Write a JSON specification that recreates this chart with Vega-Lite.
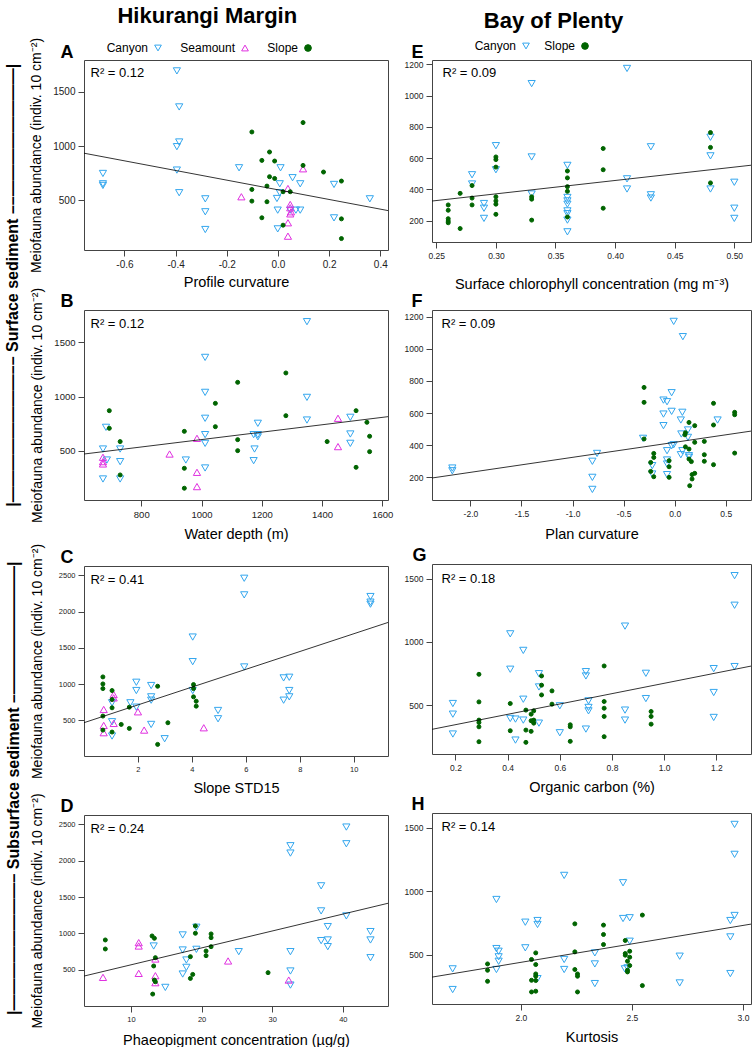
{
"$schema": "https://vega.github.io/schema/vega-lite/v6.json",
"background": "white",
"padding": 5,
"config": {
  "font": "Liberation Sans",
  "view": {"stroke": "#444", "strokeWidth": 1},
  "axis": {"grid": false, "domain": false, "tickColor": "#444", "tickSize": 6, "labelColor": "#222", "labelFont": "Liberation Sans", "titleFont": "Liberation Sans", "titleFontWeight": "normal", "titleColor": "#000", "titleFontSize": 14.5, "labelPadding": 3, "labelFlush": false, "labelOverlap": false},
  "axisX": {"titlePadding": 6},
  "axisY": {"titlePadding": 9},
  "point": {"opacity": 1, "strokeWidth": 1},
  "legend": {"symbolSize": 45, "symbolStrokeWidth": 1},
  "title": {"fontSize": 22, "fontWeight": "bold", "color": "#000"}
},
"datasets": {
  "A": [
    {"x":-0.684,"y":748,"type":"Canyon"},{"x":-0.684,"y":653,"type":"Canyon"},{"x":-0.684,"y":638,"type":"Canyon"},{"x":-0.395,"y":1690,"type":"Canyon"},{"x":-0.386,"y":1359,"type":"Canyon"},{"x":-0.386,"y":1037,"type":"Canyon"},{"x":-0.395,"y":994,"type":"Canyon"},{"x":-0.395,"y":779,"type":"Canyon"},{"x":-0.386,"y":571,"type":"Canyon"},{"x":-0.284,"y":515,"type":"Canyon"},{"x":-0.284,"y":396,"type":"Canyon"},{"x":-0.284,"y":233,"type":"Canyon"},{"x":-0.152,"y":800,"type":"Canyon"},{"x":0.01,"y":800,"type":"Canyon"},{"x":0.007,"y":653,"type":"Canyon"},{"x":0.057,"y":709,"type":"Canyon"},{"x":0.087,"y":653,"type":"Canyon"},{"x":-0.004,"y":518,"type":"Canyon"},{"x":-0.001,"y":411,"type":"Canyon"},{"x":-0.001,"y":239,"type":"Canyon"},{"x":0.048,"y":411,"type":"Canyon"},{"x":0.07,"y":411,"type":"Canyon"},{"x":0.087,"y":411,"type":"Canyon"},{"x":0.219,"y":647,"type":"Canyon"},{"x":0.219,"y":340,"type":"Canyon"},{"x":0.359,"y":515,"type":"Canyon"},{"x":0.007,"y":571,"type":"Canyon"},
    {"x":-0.143,"y":534,"type":"Seamount"},{"x":0.039,"y":610,"type":"Seamount"},{"x":0.048,"y":463,"type":"Seamount"},{"x":0.048,"y":433,"type":"Seamount"},{"x":0.051,"y":396,"type":"Seamount"},{"x":0.048,"y":377,"type":"Seamount"},{"x":0.039,"y":295,"type":"Seamount"},{"x":0.039,"y":172,"type":"Seamount"},{"x":0.098,"y":791,"type":"Seamount"},
    {"x":-0.102,"y":1129,"type":"Slope"},{"x":0.098,"y":1215,"type":"Slope"},{"x":-0.033,"y":945,"type":"Slope"},{"x":-0.063,"y":868,"type":"Slope"},{"x":-0.013,"y":862,"type":"Slope"},{"x":0.098,"y":822,"type":"Slope"},{"x":0.178,"y":761,"type":"Slope"},{"x":-0.033,"y":718,"type":"Slope"},{"x":-0.013,"y":702,"type":"Slope"},{"x":0.248,"y":678,"type":"Slope"},{"x":-0.043,"y":632,"type":"Slope"},{"x":-0.102,"y":601,"type":"Slope"},{"x":0.02,"y":580,"type":"Slope"},{"x":0.048,"y":580,"type":"Slope"},{"x":-0.102,"y":494,"type":"Slope"},{"x":-0.043,"y":488,"type":"Slope"},{"x":-0.063,"y":341,"type":"Slope"},{"x":0.02,"y":273,"type":"Slope"},{"x":0.248,"y":331,"type":"Slope"},{"x":0.248,"y":150,"type":"Slope"}
  ],
  "A_line": [{"x":-0.758,"y":934},{"x":0.43,"y":407}],
  "B": [
    {"x":673,"y":518,"type":"Canyon"},{"x":683,"y":717,"type":"Canyon"},{"x":686,"y":417,"type":"Canyon"},{"x":673,"y":243,"type":"Canyon"},{"x":730,"y":518,"type":"Canyon"},{"x":730,"y":402,"type":"Canyon"},{"x":730,"y":243,"type":"Canyon"},{"x":948,"y":417,"type":"Canyon"},{"x":1012,"y":1359,"type":"Canyon"},{"x":1012,"y":1038,"type":"Canyon"},{"x":1012,"y":800,"type":"Canyon"},{"x":1012,"y":650,"type":"Canyon"},{"x":1012,"y":570,"type":"Canyon"},{"x":1012,"y":344,"type":"Canyon"},{"x":1176,"y":518,"type":"Canyon"},{"x":1173,"y":411,"type":"Canyon"},{"x":1187,"y":754,"type":"Canyon"},{"x":1187,"y":650,"type":"Canyon"},{"x":1173,"y":650,"type":"Canyon"},{"x":1187,"y":630,"type":"Canyon"},{"x":1350,"y":1687,"type":"Canyon"},{"x":1350,"y":992,"type":"Canyon"},{"x":1350,"y":784,"type":"Canyon"},{"x":1494,"y":809,"type":"Canyon"},{"x":1494,"y":656,"type":"Canyon"},{"x":1494,"y":570,"type":"Canyon"},
    {"x":673,"y":442,"type":"Seamount"},{"x":673,"y":402,"type":"Seamount"},{"x":673,"y":381,"type":"Seamount"},{"x":894,"y":472,"type":"Seamount"},{"x":985,"y":616,"type":"Seamount"},{"x":985,"y":304,"type":"Seamount"},{"x":985,"y":173,"type":"Seamount"},{"x":1453,"y":800,"type":"Seamount"},{"x":1453,"y":540,"type":"Seamount"},
    {"x":694,"y":870,"type":"Slope"},{"x":694,"y":708,"type":"Slope"},{"x":730,"y":586,"type":"Slope"},{"x":730,"y":280,"type":"Slope"},{"x":943,"y":680,"type":"Slope"},{"x":943,"y":341,"type":"Slope"},{"x":943,"y":158,"type":"Slope"},{"x":1046,"y":937,"type":"Slope"},{"x":1046,"y":723,"type":"Slope"},{"x":1120,"y":1130,"type":"Slope"},{"x":1120,"y":604,"type":"Slope"},{"x":1120,"y":503,"type":"Slope"},{"x":1280,"y":1216,"type":"Slope"},{"x":1280,"y":824,"type":"Slope"},{"x":1417,"y":586,"type":"Slope"},{"x":1513,"y":870,"type":"Slope"},{"x":1513,"y":350,"type":"Slope"},{"x":1549,"y":763,"type":"Slope"},{"x":1558,"y":635,"type":"Slope"},{"x":1558,"y":494,"type":"Slope"}
  ],
  "B_line": [{"x":610,"y":472},{"x":1619,"y":815}],
  "C": [
    {"x":5.94,"y":2459,"type":"Canyon"},{"x":5.94,"y":2230,"type":"Canyon"},{"x":10.62,"y":2207,"type":"Canyon"},{"x":10.62,"y":2102,"type":"Canyon"},{"x":10.62,"y":2130,"type":"Canyon"},{"x":4.03,"y":1649,"type":"Canyon"},{"x":4.03,"y":1310,"type":"Canyon"},{"x":4.03,"y":912,"type":"Canyon"},{"x":5.94,"y":1237,"type":"Canyon"},{"x":7.4,"y":1086,"type":"Canyon"},{"x":7.61,"y":1095,"type":"Canyon"},{"x":7.61,"y":912,"type":"Canyon"},{"x":7.61,"y":825,"type":"Canyon"},{"x":7.4,"y":779,"type":"Canyon"},{"x":4.97,"y":637,"type":"Canyon"},{"x":4.97,"y":523,"type":"Canyon"},{"x":1.94,"y":1026,"type":"Canyon"},{"x":1.94,"y":912,"type":"Canyon"},{"x":1.94,"y":683,"type":"Canyon"},{"x":2.49,"y":981,"type":"Canyon"},{"x":2.49,"y":825,"type":"Canyon"},{"x":2.49,"y":779,"type":"Canyon"},{"x":2.49,"y":445,"type":"Canyon"},{"x":1.72,"y":743,"type":"Canyon"},{"x":1.04,"y":482,"type":"Canyon"},{"x":1.04,"y":285,"type":"Canyon"},{"x":2.99,"y":248,"type":"Canyon"},{"x":1.04,"y":743,"type":"Canyon"},
    {"x":0.73,"y":651,"type":"Seamount"},{"x":0.73,"y":431,"type":"Seamount"},{"x":0.73,"y":331,"type":"Seamount"},{"x":1.1,"y":857,"type":"Seamount"},{"x":1.1,"y":811,"type":"Seamount"},{"x":1.1,"y":459,"type":"Seamount"},{"x":2.0,"y":619,"type":"Seamount"},{"x":2.23,"y":367,"type":"Seamount"},{"x":4.44,"y":399,"type":"Seamount"},
    {"x":0.7,"y":1100,"type":"Slope"},{"x":0.7,"y":1003,"type":"Slope"},{"x":0.7,"y":939,"type":"Slope"},{"x":0.7,"y":560,"type":"Slope"},{"x":0.7,"y":367,"type":"Slope"},{"x":1.04,"y":912,"type":"Slope"},{"x":1.04,"y":788,"type":"Slope"},{"x":1.04,"y":674,"type":"Slope"},{"x":1.04,"y":340,"type":"Slope"},{"x":1.38,"y":445,"type":"Slope"},{"x":1.68,"y":390,"type":"Slope"},{"x":1.68,"y":683,"type":"Slope"},{"x":2.73,"y":971,"type":"Slope"},{"x":3.11,"y":468,"type":"Slope"},{"x":2.73,"y":170,"type":"Slope"},{"x":4.06,"y":994,"type":"Slope"},{"x":4.06,"y":939,"type":"Slope"},{"x":4.06,"y":825,"type":"Slope"},{"x":4.16,"y":765,"type":"Slope"},{"x":4.16,"y":697,"type":"Slope"}
  ],
  "C_line": [{"x":0,"y":469},{"x":11.27,"y":1850}],
  "D": [
    {"x":40.5,"y":2463,"type":"Canyon"},{"x":40.5,"y":2233,"type":"Canyon"},{"x":32.58,"y":2206,"type":"Canyon"},{"x":32.58,"y":2105,"type":"Canyon"},{"x":36.93,"y":1654,"type":"Canyon"},{"x":36.93,"y":1309,"type":"Canyon"},{"x":40.5,"y":1240,"type":"Canyon"},{"x":37.87,"y":1093,"type":"Canyon"},{"x":36.93,"y":900,"type":"Canyon"},{"x":37.87,"y":909,"type":"Canyon"},{"x":37.87,"y":817,"type":"Canyon"},{"x":43.92,"y":1024,"type":"Canyon"},{"x":43.92,"y":909,"type":"Canyon"},{"x":43.92,"y":665,"type":"Canyon"},{"x":32.58,"y":748,"type":"Canyon"},{"x":32.58,"y":482,"type":"Canyon"},{"x":32.58,"y":288,"type":"Canyon"},{"x":25.26,"y":748,"type":"Canyon"},{"x":17.32,"y":978,"type":"Canyon"},{"x":17.32,"y":771,"type":"Canyon"},{"x":17.84,"y":633,"type":"Canyon"},{"x":17.84,"y":532,"type":"Canyon"},{"x":17.32,"y":440,"type":"Canyon"},{"x":19.26,"y":1084,"type":"Canyon"},{"x":19.26,"y":780,"type":"Canyon"},{"x":13.21,"y":826,"type":"Canyon"},{"x":14.86,"y":256,"type":"Canyon"},
    {"x":6.03,"y":394,"type":"Seamount"},{"x":11.09,"y":872,"type":"Seamount"},{"x":11.09,"y":826,"type":"Seamount"},{"x":11.09,"y":449,"type":"Seamount"},{"x":13.45,"y":647,"type":"Seamount"},{"x":13.45,"y":417,"type":"Seamount"},{"x":13.45,"y":321,"type":"Seamount"},{"x":23.75,"y":620,"type":"Seamount"},{"x":32.34,"y":357,"type":"Seamount"},
    {"x":6.36,"y":909,"type":"Slope"},{"x":6.36,"y":785,"type":"Slope"},{"x":12.98,"y":964,"type":"Slope"},{"x":13.31,"y":932,"type":"Slope"},{"x":13.21,"y":551,"type":"Slope"},{"x":13.31,"y":357,"type":"Slope"},{"x":13.45,"y":334,"type":"Slope"},{"x":13.07,"y":164,"type":"Slope"},{"x":13.45,"y":665,"type":"Slope"},{"x":19.12,"y":1102,"type":"Slope"},{"x":19.12,"y":1001,"type":"Slope"},{"x":21.34,"y":992,"type":"Slope"},{"x":21.34,"y":941,"type":"Slope"},{"x":21.34,"y":817,"type":"Slope"},{"x":20.63,"y":757,"type":"Slope"},{"x":20.63,"y":693,"type":"Slope"},{"x":18.41,"y":679,"type":"Slope"},{"x":18.74,"y":435,"type":"Slope"},{"x":18.41,"y":380,"type":"Slope"},{"x":29.41,"y":459,"type":"Slope"}
  ],
  "D_line": [{"x":3.34,"y":412},{"x":46.4,"y":1414}],
  "E": [
    {"x":0.41,"y":1174,"type":"Canyon"},{"x":0.33,"y":1077,"type":"Canyon"},{"x":0.33,"y":608,"type":"Canyon"},{"x":0.33,"y":371,"type":"Canyon"},{"x":0.30,"y":680,"type":"Canyon"},{"x":0.30,"y":526,"type":"Canyon"},{"x":0.28,"y":494,"type":"Canyon"},{"x":0.28,"y":435,"type":"Canyon"},{"x":0.29,"y":310,"type":"Canyon"},{"x":0.29,"y":280,"type":"Canyon"},{"x":0.29,"y":215,"type":"Canyon"},{"x":0.36,"y":554,"type":"Canyon"},{"x":0.36,"y":349,"type":"Canyon"},{"x":0.36,"y":327,"type":"Canyon"},{"x":0.36,"y":306,"type":"Canyon"},{"x":0.36,"y":263,"type":"Canyon"},{"x":0.36,"y":245,"type":"Canyon"},{"x":0.36,"y":204,"type":"Canyon"},{"x":0.36,"y":129,"type":"Canyon"},{"x":0.41,"y":468,"type":"Canyon"},{"x":0.41,"y":403,"type":"Canyon"},{"x":0.43,"y":673,"type":"Canyon"},{"x":0.43,"y":366,"type":"Canyon"},{"x":0.43,"y":345,"type":"Canyon"},{"x":0.48,"y":734,"type":"Canyon"},{"x":0.48,"y":615,"type":"Canyon"},{"x":0.48,"y":403,"type":"Canyon"},{"x":0.50,"y":446,"type":"Canyon"},{"x":0.50,"y":280,"type":"Canyon"},{"x":0.50,"y":215,"type":"Canyon"},
    {"x":0.26,"y":301,"type":"Slope"},{"x":0.26,"y":267,"type":"Slope"},{"x":0.26,"y":213,"type":"Slope"},{"x":0.26,"y":198,"type":"Slope"},{"x":0.26,"y":187,"type":"Slope"},{"x":0.27,"y":375,"type":"Slope"},{"x":0.27,"y":150,"type":"Slope"},{"x":0.28,"y":425,"type":"Slope"},{"x":0.28,"y":345,"type":"Slope"},{"x":0.28,"y":301,"type":"Slope"},{"x":0.30,"y":608,"type":"Slope"},{"x":0.30,"y":591,"type":"Slope"},{"x":0.30,"y":543,"type":"Slope"},{"x":0.30,"y":353,"type":"Slope"},{"x":0.30,"y":327,"type":"Slope"},{"x":0.30,"y":306,"type":"Slope"},{"x":0.30,"y":241,"type":"Slope"},{"x":0.33,"y":353,"type":"Slope"},{"x":0.33,"y":338,"type":"Slope"},{"x":0.33,"y":204,"type":"Slope"},{"x":0.36,"y":518,"type":"Slope"},{"x":0.36,"y":474,"type":"Slope"},{"x":0.36,"y":418,"type":"Slope"},{"x":0.36,"y":388,"type":"Slope"},{"x":0.36,"y":224,"type":"Slope"},{"x":0.39,"y":662,"type":"Slope"},{"x":0.39,"y":526,"type":"Slope"},{"x":0.39,"y":280,"type":"Slope"},{"x":0.48,"y":764,"type":"Slope"},{"x":0.48,"y":669,"type":"Slope"},{"x":0.48,"y":442,"type":"Slope"}
  ],
  "E_line": [{"x":0.2464,"y":326},{"x":0.514,"y":555}],
  "F": [
    {"x":-2.177,"y":258,"type":"Canyon"},{"x":-2.177,"y":241,"type":"Canyon"},{"x":-0.806,"y":300,"type":"Canyon"},{"x":-0.806,"y":200,"type":"Canyon"},{"x":-0.806,"y":125,"type":"Canyon"},{"x":-0.76,"y":349,"type":"Canyon"},{"x":-0.31,"y":443,"type":"Canyon"},{"x":-0.01,"y":1171,"type":"Canyon"},{"x":0.08,"y":1076,"type":"Canyon"},{"x":-0.03,"y":727,"type":"Canyon"},{"x":-0.11,"y":681,"type":"Canyon"},{"x":-0.075,"y":671,"type":"Canyon"},{"x":-0.03,"y":611,"type":"Canyon"},{"x":-0.11,"y":594,"type":"Canyon"},{"x":-0.11,"y":522,"type":"Canyon"},{"x":0.075,"y":605,"type":"Canyon"},{"x":0.06,"y":557,"type":"Canyon"},{"x":0.42,"y":557,"type":"Canyon"},{"x":0.065,"y":470,"type":"Canyon"},{"x":0.13,"y":495,"type":"Canyon"},{"x":0.13,"y":449,"type":"Canyon"},{"x":-0.03,"y":397,"type":"Canyon"},{"x":-0.01,"y":403,"type":"Canyon"},{"x":-0.075,"y":366,"type":"Canyon"},{"x":0.075,"y":366,"type":"Canyon"},{"x":0.06,"y":341,"type":"Canyon"},{"x":-0.075,"y":308,"type":"Canyon"},{"x":-0.075,"y":283,"type":"Canyon"},{"x":-0.075,"y":217,"type":"Canyon"},{"x":-0.22,"y":273,"type":"Canyon"},{"x":-0.22,"y":221,"type":"Canyon"},{"x":0.14,"y":335,"type":"Canyon"},{"x":0.14,"y":325,"type":"Canyon"},
    {"x":-0.3,"y":760,"type":"Slope"},{"x":-0.3,"y":667,"type":"Slope"},{"x":-0.3,"y":439,"type":"Slope"},{"x":-0.205,"y":349,"type":"Slope"},{"x":-0.205,"y":324,"type":"Slope"},{"x":-0.235,"y":293,"type":"Slope"},{"x":-0.235,"y":237,"type":"Slope"},{"x":-0.205,"y":204,"type":"Slope"},{"x":-0.055,"y":304,"type":"Slope"},{"x":-0.055,"y":266,"type":"Slope"},{"x":-0.055,"y":200,"type":"Slope"},{"x":0.105,"y":478,"type":"Slope"},{"x":0.1,"y":465,"type":"Slope"},{"x":0.14,"y":542,"type":"Slope"},{"x":0.196,"y":522,"type":"Slope"},{"x":0.196,"y":418,"type":"Slope"},{"x":0.14,"y":376,"type":"Slope"},{"x":0.105,"y":390,"type":"Slope"},{"x":0.14,"y":314,"type":"Slope"},{"x":0.163,"y":298,"type":"Slope"},{"x":0.17,"y":217,"type":"Slope"},{"x":0.196,"y":225,"type":"Slope"},{"x":0.17,"y":190,"type":"Slope"},{"x":0.147,"y":148,"type":"Slope"},{"x":0.29,"y":424,"type":"Slope"},{"x":0.29,"y":341,"type":"Slope"},{"x":0.29,"y":300,"type":"Slope"},{"x":0.38,"y":661,"type":"Slope"},{"x":0.38,"y":526,"type":"Slope"},{"x":0.38,"y":279,"type":"Slope"},{"x":0.587,"y":605,"type":"Slope"},{"x":0.587,"y":590,"type":"Slope"},{"x":0.587,"y":351,"type":"Slope"}
  ],
  "F_line": [{"x":-2.376,"y":196},{"x":0.747,"y":488}],
  "G": [
    {"x":0.19,"y":513,"type":"Canyon"},{"x":0.19,"y":429,"type":"Canyon"},{"x":0.19,"y":272,"type":"Canyon"},{"x":0.41,"y":1064,"type":"Canyon"},{"x":0.41,"y":784,"type":"Canyon"},{"x":0.41,"y":395,"type":"Canyon"},{"x":0.43,"y":390,"type":"Canyon"},{"x":0.46,"y":933,"type":"Canyon"},{"x":0.46,"y":547,"type":"Canyon"},{"x":0.46,"y":382,"type":"Canyon"},{"x":0.43,"y":224,"type":"Canyon"},{"x":0.52,"y":749,"type":"Canyon"},{"x":0.52,"y":644,"type":"Canyon"},{"x":0.52,"y":358,"type":"Canyon"},{"x":0.60,"y":495,"type":"Canyon"},{"x":0.60,"y":282,"type":"Canyon"},{"x":0.70,"y":765,"type":"Canyon"},{"x":0.70,"y":731,"type":"Canyon"},{"x":0.70,"y":311,"type":"Canyon"},{"x":0.71,"y":534,"type":"Canyon"},{"x":0.71,"y":482,"type":"Canyon"},{"x":0.71,"y":455,"type":"Canyon"},{"x":0.85,"y":1125,"type":"Canyon"},{"x":0.85,"y":461,"type":"Canyon"},{"x":0.85,"y":382,"type":"Canyon"},{"x":0.93,"y":752,"type":"Canyon"},{"x":0.93,"y":552,"type":"Canyon"},{"x":1.19,"y":789,"type":"Canyon"},{"x":1.19,"y":600,"type":"Canyon"},{"x":1.19,"y":403,"type":"Canyon"},{"x":1.27,"y":1524,"type":"Canyon"},{"x":1.27,"y":1290,"type":"Canyon"},{"x":1.27,"y":805,"type":"Canyon"},
    {"x":0.29,"y":744,"type":"Slope"},{"x":0.29,"y":526,"type":"Slope"},{"x":0.29,"y":382,"type":"Slope"},{"x":0.29,"y":363,"type":"Slope"},{"x":0.29,"y":329,"type":"Slope"},{"x":0.29,"y":211,"type":"Slope"},{"x":0.41,"y":513,"type":"Slope"},{"x":0.41,"y":298,"type":"Slope"},{"x":0.47,"y":461,"type":"Slope"},{"x":0.47,"y":303,"type":"Slope"},{"x":0.47,"y":206,"type":"Slope"},{"x":0.49,"y":429,"type":"Slope"},{"x":0.50,"y":455,"type":"Slope"},{"x":0.49,"y":377,"type":"Slope"},{"x":0.50,"y":382,"type":"Slope"},{"x":0.50,"y":358,"type":"Slope"},{"x":0.49,"y":293,"type":"Slope"},{"x":0.53,"y":731,"type":"Slope"},{"x":0.53,"y":658,"type":"Slope"},{"x":0.53,"y":581,"type":"Slope"},{"x":0.57,"y":613,"type":"Slope"},{"x":0.57,"y":508,"type":"Slope"},{"x":0.64,"y":345,"type":"Slope"},{"x":0.64,"y":329,"type":"Slope"},{"x":0.64,"y":214,"type":"Slope"},{"x":0.77,"y":810,"type":"Slope"},{"x":0.77,"y":529,"type":"Slope"},{"x":0.77,"y":476,"type":"Slope"},{"x":0.77,"y":411,"type":"Slope"},{"x":0.77,"y":251,"type":"Slope"},{"x":0.95,"y":450,"type":"Slope"},{"x":0.95,"y":411,"type":"Slope"},{"x":0.95,"y":350,"type":"Slope"}
  ],
  "G_line": [{"x":0.11,"y":309},{"x":1.333,"y":809}],
  "H": [
    {"x":1.693,"y":387,"type":"Canyon"},{"x":1.693,"y":224,"type":"Canyon"},{"x":1.89,"y":934,"type":"Canyon"},{"x":1.89,"y":547,"type":"Canyon"},{"x":1.9,"y":526,"type":"Canyon"},{"x":1.9,"y":482,"type":"Canyon"},{"x":1.9,"y":447,"type":"Canyon"},{"x":1.89,"y":382,"type":"Canyon"},{"x":2.02,"y":755,"type":"Canyon"},{"x":2.02,"y":553,"type":"Canyon"},{"x":2.075,"y":768,"type":"Canyon"},{"x":2.075,"y":737,"type":"Canyon"},{"x":2.075,"y":310,"type":"Canyon"},{"x":2.195,"y":1124,"type":"Canyon"},{"x":2.195,"y":461,"type":"Canyon"},{"x":2.195,"y":382,"type":"Canyon"},{"x":2.333,"y":513,"type":"Canyon"},{"x":2.333,"y":426,"type":"Canyon"},{"x":2.333,"y":271,"type":"Canyon"},{"x":2.46,"y":1066,"type":"Canyon"},{"x":2.46,"y":784,"type":"Canyon"},{"x":2.49,"y":790,"type":"Canyon"},{"x":2.468,"y":387,"type":"Canyon"},{"x":2.49,"y":605,"type":"Canyon"},{"x":2.48,"y":395,"type":"Canyon"},{"x":2.715,"y":487,"type":"Canyon"},{"x":2.715,"y":276,"type":"Canyon"},{"x":2.943,"y":768,"type":"Canyon"},{"x":2.943,"y":639,"type":"Canyon"},{"x":2.943,"y":350,"type":"Canyon"},{"x":2.962,"y":1526,"type":"Canyon"},{"x":2.962,"y":1290,"type":"Canyon"},{"x":2.962,"y":808,"type":"Canyon"},
    {"x":1.85,"y":426,"type":"Slope"},{"x":1.85,"y":376,"type":"Slope"},{"x":1.85,"y":289,"type":"Slope"},{"x":2.067,"y":513,"type":"Slope"},{"x":2.048,"y":461,"type":"Slope"},{"x":2.067,"y":421,"type":"Slope"},{"x":2.067,"y":347,"type":"Slope"},{"x":2.067,"y":329,"type":"Slope"},{"x":2.048,"y":297,"type":"Slope"},{"x":2.067,"y":295,"type":"Slope"},{"x":2.048,"y":205,"type":"Slope"},{"x":2.067,"y":211,"type":"Slope"},{"x":2.243,"y":742,"type":"Slope"},{"x":2.243,"y":521,"type":"Slope"},{"x":2.243,"y":382,"type":"Slope"},{"x":2.255,"y":347,"type":"Slope"},{"x":2.255,"y":329,"type":"Slope"},{"x":2.255,"y":205,"type":"Slope"},{"x":2.372,"y":732,"type":"Slope"},{"x":2.372,"y":658,"type":"Slope"},{"x":2.372,"y":579,"type":"Slope"},{"x":2.47,"y":611,"type":"Slope"},{"x":2.47,"y":508,"type":"Slope"},{"x":2.47,"y":495,"type":"Slope"},{"x":2.49,"y":526,"type":"Slope"},{"x":2.49,"y":479,"type":"Slope"},{"x":2.48,"y":447,"type":"Slope"},{"x":2.49,"y":413,"type":"Slope"},{"x":2.48,"y":376,"type":"Slope"},{"x":2.48,"y":363,"type":"Slope"},{"x":2.547,"y":811,"type":"Slope"},{"x":2.547,"y":255,"type":"Slope"}
  ],
  "H_line": [{"x":1.6,"y":322},{"x":3.036,"y":740}]
},
"resolve": {"scale": {"shape": "independent", "fill": "independent", "stroke": "independent"}},
"spacing": 9,
"hconcat": [
 {
  "title": {"text": "Hikurangi Margin", "anchor": "middle", "frame": "bounds", "fontSize": 22, "offset": 7, "dx": 8},
  "spacing": -1,
  "resolve": {"scale": {"shape": "independent", "fill": "independent", "stroke": "independent"}},
  "vconcat": [
   {
    "title": {"text": "|————————–– Surface sediment ––————————|", "orient": "left", "anchor": "middle", "frame": "bounds", "fontSize": 16, "offset": 8, "dx": 3, "color": "#000"},
    "bounds": "flush",
    "spacing": 60,
    "resolve": {"scale": {"shape": "independent", "fill": "independent", "stroke": "independent"}},
    "vconcat": [
     {
      "width": 304, "height": 190,
      "resolve": {"axis": {"x": "independent", "y": "independent"}},
      "layer": [
       {"data": {"name": "A"}, "mark": {"type": "point"},
        "encoding": {
         "x": {"field": "x", "type": "quantitative", "scale": {"domain": [-0.758, 0.43], "nice": false, "zero": false}, "axis": {"values": [-0.6,-0.4,-0.2,0,0.2,0.4], "format": ".1f", "labelExpr": "replace(datum.label, '\u2212', '-')", "title": "Profile curvature", "labelFontSize": 10}},
         "y": {"field": "y", "type": "quantitative", "scale": {"domain": [45, 1790], "nice": false, "zero": false}, "axis": {"values": [500,1000,1500], "format": "d", "title": "Meiofauna abundance (indiv. 10  cm\u207b\u00b2)", "labelFontSize": 10, "titleFontSize": 14}},
         "shape": {"field": "type", "type": "nominal", "scale": {"domain": ["Canyon","Seamount","Slope"], "range": ["triangle-down","triangle-up","circle"]}, "legend": {"orient": "none", "legendX": 68, "legendY": -18, "direction": "horizontal", "columns": 3, "title": null, "labelAlign": "right", "labelOffset": -16, "labelFontSize": 12, "labelColor": "#000", "columnPadding": 16}},
         "stroke": {"field": "type", "type": "nominal", "scale": {"domain": ["Canyon","Seamount","Slope"], "range": ["#33a6ee","#e030e0","#006400"]}, "legend": {"orient": "none", "legendX": 68, "legendY": -18, "direction": "horizontal", "columns": 3, "title": null, "labelAlign": "right", "labelOffset": -16, "labelFontSize": 12, "labelColor": "#000", "columnPadding": 16}},
         "fill": {"field": "type", "type": "nominal", "scale": {"domain": ["Canyon","Seamount","Slope"], "range": ["transparent","transparent","#006400"]}, "legend": {"orient": "none", "legendX": 68, "legendY": -18, "direction": "horizontal", "columns": 3, "title": null, "labelAlign": "right", "labelOffset": -16, "labelFontSize": 12, "labelColor": "#000", "columnPadding": 16}},
         "size": {"condition": {"test": "datum.type === 'Slope'", "value": 16}, "value": 52}
        }},
       {"data": {"name": "A_line"}, "mark": {"type": "line", "color": "#000", "strokeWidth": 0.8, "clip": true},
        "encoding": {
         "x": {"field": "x", "type": "quantitative", "axis": {"orient": "top", "title": "A", "titleX": -24, "titleY": -3, "titleAlign": "left", "titleBaseline": "alphabetic", "titleFontSize": 18, "titleFontWeight": "bold", "labels": false, "ticks": false, "domain": false}},
         "y": {"field": "y", "type": "quantitative", "axis": {"orient": "right", "title": "R\u00b2 = 0.12", "titleAngle": 0, "titleX": -298, "titleY": 16, "titleAlign": "left", "titleBaseline": "alphabetic", "titleFontSize": 13, "labels": false, "ticks": false, "domain": false}}
        }}
      ]
     },
     {
      "width": 304, "height": 190,
      "resolve": {"axis": {"x": "independent", "y": "independent"}},
      "layer": [
       {"data": {"name": "B"}, "mark": {"type": "point"},
        "encoding": {
         "x": {"field": "x", "type": "quantitative", "scale": {"domain": [610, 1619], "nice": false, "zero": false}, "axis": {"values": [800,1000,1200,1400,1600], "format": "d", "title": "Water depth (m)", "labelFontSize": 9.5, "titlePadding": 9}},
         "y": {"field": "y", "type": "quantitative", "scale": {"domain": [50, 1794], "nice": false, "zero": false}, "axis": {"values": [500,1000,1500], "format": "d", "title": "Meiofauna abundance (indiv. 10  cm\u207b\u00b2)", "labelFontSize": 9.5, "titleFontSize": 14}},
         "shape": {"field": "type", "type": "nominal", "scale": {"domain": ["Canyon","Seamount","Slope"], "range": ["triangle-down","triangle-up","circle"]}, "legend": null},
         "stroke": {"field": "type", "type": "nominal", "scale": {"domain": ["Canyon","Seamount","Slope"], "range": ["#33a6ee","#e030e0","#006400"]}, "legend": null},
         "fill": {"field": "type", "type": "nominal", "scale": {"domain": ["Canyon","Seamount","Slope"], "range": ["transparent","transparent","#006400"]}, "legend": null},
         "size": {"condition": {"test": "datum.type === 'Slope'", "value": 16}, "value": 52}
        }},
       {"data": {"name": "B_line"}, "mark": {"type": "line", "color": "#000", "strokeWidth": 0.8, "clip": true},
        "encoding": {
         "x": {"field": "x", "type": "quantitative", "axis": {"orient": "top", "title": "B", "titleX": -24, "titleY": -4, "titleAlign": "left", "titleBaseline": "alphabetic", "titleFontSize": 18, "titleFontWeight": "bold", "labels": false, "ticks": false, "domain": false}},
         "y": {"field": "y", "type": "quantitative", "axis": {"orient": "right", "title": "R\u00b2 = 0.12", "titleAngle": 0, "titleX": -298, "titleY": 17, "titleAlign": "left", "titleBaseline": "alphabetic", "titleFontSize": 13, "labels": false, "ticks": false, "domain": false}}
        }}
      ]
     }
    ]
   },
   {
    "title": {"text": "|————————– Subsurface sediment –————————|", "orient": "left", "anchor": "middle", "frame": "bounds", "fontSize": 16, "offset": 8, "dx": 6, "color": "#000"},
    "bounds": "flush",
    "spacing": 59,
    "resolve": {"scale": {"shape": "independent", "fill": "independent", "stroke": "independent"}},
    "vconcat": [
     {
      "width": 304, "height": 190,
      "resolve": {"axis": {"x": "independent", "y": "independent"}},
      "layer": [
       {"data": {"name": "C"}, "mark": {"type": "point"},
        "encoding": {
         "x": {"field": "x", "type": "quantitative", "scale": {"domain": [0, 11.27], "nice": false, "zero": false}, "axis": {"values": [2,4,6,8,10], "format": "d", "title": "Slope STD15", "labelFontSize": 7.5, "titlePadding": 9}},
         "y": {"field": "y", "type": "quantitative", "scale": {"domain": [10, 2628], "nice": false, "zero": false}, "axis": {"values": [500,1000,1500,2000,2500], "format": "d", "title": "Meiofauna abundance (indiv. 10  cm\u207b\u00b2)", "labelFontSize": 7.5, "titleFontSize": 14, "titlePadding": 14}},
         "shape": {"field": "type", "type": "nominal", "scale": {"domain": ["Canyon","Seamount","Slope"], "range": ["triangle-down","triangle-up","circle"]}, "legend": null},
         "stroke": {"field": "type", "type": "nominal", "scale": {"domain": ["Canyon","Seamount","Slope"], "range": ["#33a6ee","#e030e0","#006400"]}, "legend": null},
         "fill": {"field": "type", "type": "nominal", "scale": {"domain": ["Canyon","Seamount","Slope"], "range": ["transparent","transparent","#006400"]}, "legend": null},
         "size": {"condition": {"test": "datum.type === 'Slope'", "value": 16}, "value": 52}
        }},
       {"data": {"name": "C_line"}, "mark": {"type": "line", "color": "#000", "strokeWidth": 0.8, "clip": true},
        "encoding": {
         "x": {"field": "x", "type": "quantitative", "axis": {"orient": "top", "title": "C", "titleX": -24, "titleY": -4, "titleAlign": "left", "titleBaseline": "alphabetic", "titleFontSize": 18, "titleFontWeight": "bold", "labels": false, "ticks": false, "domain": false}},
         "y": {"field": "y", "type": "quantitative", "axis": {"orient": "right", "title": "R\u00b2 = 0.41", "titleAngle": 0, "titleX": -298, "titleY": 17, "titleAlign": "left", "titleBaseline": "alphabetic", "titleFontSize": 13, "labels": false, "ticks": false, "domain": false}}
        }}
      ]
     },
     {
      "width": 304, "height": 191,
      "resolve": {"axis": {"x": "independent", "y": "independent"}},
      "layer": [
       {"data": {"name": "D"}, "mark": {"type": "point"},
        "encoding": {
         "x": {"field": "x", "type": "quantitative", "scale": {"domain": [3.34, 46.4], "nice": false, "zero": false}, "axis": {"values": [10,20,30,40], "format": "d", "title": "Phaeopigment concentration (µg/g)", "labelFontSize": 7.5, "titlePadding": 11}},
         "y": {"field": "y", "type": "quantitative", "scale": {"domain": [0, 2629], "nice": false, "zero": false}, "axis": {"values": [500,1000,1500,2000,2500], "format": "d", "title": "Meiofauna abundance (indiv. 10  cm\u207b\u00b2)", "labelFontSize": 7.5, "titleFontSize": 14, "titlePadding": 14}},
         "shape": {"field": "type", "type": "nominal", "scale": {"domain": ["Canyon","Seamount","Slope"], "range": ["triangle-down","triangle-up","circle"]}, "legend": null},
         "stroke": {"field": "type", "type": "nominal", "scale": {"domain": ["Canyon","Seamount","Slope"], "range": ["#33a6ee","#e030e0","#006400"]}, "legend": null},
         "fill": {"field": "type", "type": "nominal", "scale": {"domain": ["Canyon","Seamount","Slope"], "range": ["transparent","transparent","#006400"]}, "legend": null},
         "size": {"condition": {"test": "datum.type === 'Slope'", "value": 16}, "value": 52}
        }},
       {"data": {"name": "D_line"}, "mark": {"type": "line", "color": "#000", "strokeWidth": 0.8, "clip": true},
        "encoding": {
         "x": {"field": "x", "type": "quantitative", "axis": {"orient": "top", "title": "D", "titleX": -24, "titleY": -4, "titleAlign": "left", "titleBaseline": "alphabetic", "titleFontSize": 18, "titleFontWeight": "bold", "labels": false, "ticks": false, "domain": false}},
         "y": {"field": "y", "type": "quantitative", "axis": {"orient": "right", "title": "R\u00b2 = 0.24", "titleAngle": 0, "titleX": -298, "titleY": 17, "titleAlign": "left", "titleBaseline": "alphabetic", "titleFontSize": 13, "labels": false, "ticks": false, "domain": false}}
        }}
      ]
     }
    ]
   }
  ]
 },
 {
  "title": {"text": "Bay of Plenty", "anchor": "middle", "frame": "bounds", "fontSize": 22, "offset": 7, "dx": -24},
  "spacing": 3,
  "resolve": {"scale": {"shape": "independent", "fill": "independent", "stroke": "independent"}},
  "vconcat": [
   {
    "bounds": "flush",
    "spacing": 68,
    "resolve": {"scale": {"shape": "independent", "fill": "independent", "stroke": "independent"}},
    "vconcat": [
     {
      "width": 319, "height": 182,
      "resolve": {"axis": {"x": "independent", "y": "independent"}},
      "layer": [
       {"data": {"name": "E"}, "mark": {"type": "point"},
        "encoding": {
         "x": {"field": "x", "type": "quantitative", "scale": {"domain": [0.2464, 0.514], "nice": false, "zero": false}, "axis": {"values": [0.25,0.3,0.35,0.4,0.45,0.5], "format": ".2f", "title": "Surface chlorophyll concentration (mg m\u207b\u00b3)", "labelFontSize": 8.5, "titlePadding": 18}},
         "y": {"field": "y", "type": "quantitative", "scale": {"domain": [64, 1228], "nice": false, "zero": false}, "axis": {"values": [200,400,600,800,1000,1200], "format": "d", "title": null, "labelFontSize": 8.5}},
         "shape": {"field": "type", "type": "nominal", "scale": {"domain": ["Canyon","Slope"], "range": ["triangle-down","circle"]}, "legend": {"orient": "none", "legendX": 88, "legendY": -20, "direction": "horizontal", "columns": 2, "title": null, "labelAlign": "right", "labelOffset": -16, "labelFontSize": 12, "labelColor": "#000", "columnPadding": 12}},
         "stroke": {"field": "type", "type": "nominal", "scale": {"domain": ["Canyon","Slope"], "range": ["#33a6ee","#006400"]}, "legend": {"orient": "none", "legendX": 88, "legendY": -20, "direction": "horizontal", "columns": 2, "title": null, "labelAlign": "right", "labelOffset": -16, "labelFontSize": 12, "labelColor": "#000", "columnPadding": 12}},
         "fill": {"field": "type", "type": "nominal", "scale": {"domain": ["Canyon","Slope"], "range": ["transparent","#006400"]}, "legend": {"orient": "none", "legendX": 88, "legendY": -20, "direction": "horizontal", "columns": 2, "title": null, "labelAlign": "right", "labelOffset": -16, "labelFontSize": 12, "labelColor": "#000", "columnPadding": 12}},
         "size": {"condition": {"test": "datum.type === 'Slope'", "value": 16}, "value": 52}
        }},
       {"data": {"name": "E_line"}, "mark": {"type": "line", "color": "#000", "strokeWidth": 0.8, "clip": true},
        "encoding": {
         "x": {"field": "x", "type": "quantitative", "axis": {"orient": "top", "title": "E", "titleX": -21, "titleY": -3, "titleAlign": "left", "titleBaseline": "alphabetic", "titleFontSize": 18, "titleFontWeight": "bold", "labels": false, "ticks": false, "domain": false}},
         "y": {"field": "y", "type": "quantitative", "axis": {"orient": "right", "title": "R\u00b2 = 0.09", "titleAngle": 0, "titleX": -309, "titleY": 16, "titleAlign": "left", "titleBaseline": "alphabetic", "titleFontSize": 13, "labels": false, "ticks": false, "domain": false}}
        }}
      ]
     },
     {
      "width": 319, "height": 190,
      "resolve": {"axis": {"x": "independent", "y": "independent"}},
      "layer": [
       {"data": {"name": "F"}, "mark": {"type": "point"},
        "encoding": {
         "x": {"field": "x", "type": "quantitative", "scale": {"domain": [-2.376, 0.747], "nice": false, "zero": false}, "axis": {"values": [-2,-1.5,-1,-0.5,0,0.5], "format": ".1f", "labelExpr": "replace(datum.label, '\u2212', '-')", "title": "Plan curvature", "labelFontSize": 8.5, "titlePadding": 10}},
         "y": {"field": "y", "type": "quantitative", "scale": {"domain": [59, 1242], "nice": false, "zero": false}, "axis": {"values": [200,400,600,800,1000,1200], "format": "d", "title": null, "labelFontSize": 8.5}},
         "shape": {"field": "type", "type": "nominal", "scale": {"domain": ["Canyon","Slope"], "range": ["triangle-down","circle"]}, "legend": null},
         "stroke": {"field": "type", "type": "nominal", "scale": {"domain": ["Canyon","Slope"], "range": ["#33a6ee","#006400"]}, "legend": null},
         "fill": {"field": "type", "type": "nominal", "scale": {"domain": ["Canyon","Slope"], "range": ["transparent","#006400"]}, "legend": null},
         "size": {"condition": {"test": "datum.type === 'Slope'", "value": 16}, "value": 52}
        }},
       {"data": {"name": "F_line"}, "mark": {"type": "line", "color": "#000", "strokeWidth": 0.8, "clip": true},
        "encoding": {
         "x": {"field": "x", "type": "quantitative", "axis": {"orient": "top", "title": "F", "titleX": -21, "titleY": -4, "titleAlign": "left", "titleBaseline": "alphabetic", "titleFontSize": 18, "titleFontWeight": "bold", "labels": false, "ticks": false, "domain": false}},
         "y": {"field": "y", "type": "quantitative", "axis": {"orient": "right", "title": "R\u00b2 = 0.09", "titleAngle": 0, "titleX": -310, "titleY": 17, "titleAlign": "left", "titleBaseline": "alphabetic", "titleFontSize": 13, "labels": false, "ticks": false, "domain": false}}
        }}
      ]
     }
    ]
   },
   {
    "bounds": "flush",
    "spacing": 59,
    "resolve": {"scale": {"shape": "independent", "fill": "independent", "stroke": "independent"}},
    "vconcat": [
     {
      "width": 319, "height": 190,
      "resolve": {"axis": {"x": "independent", "y": "independent"}},
      "layer": [
       {"data": {"name": "G"}, "mark": {"type": "point"},
        "encoding": {
         "x": {"field": "x", "type": "quantitative", "scale": {"domain": [0.11, 1.333], "nice": false, "zero": false}, "axis": {"values": [0.2,0.4,0.6,0.8,1.0,1.2], "format": ".1f", "title": "Organic carbon (%)", "labelFontSize": 8.5, "titlePadding": 9}},
         "y": {"field": "y", "type": "quantitative", "scale": {"domain": [114, 1616], "nice": false, "zero": false}, "axis": {"values": [500,1000,1500], "format": "d", "title": null, "labelFontSize": 8.5}},
         "shape": {"field": "type", "type": "nominal", "scale": {"domain": ["Canyon","Slope"], "range": ["triangle-down","circle"]}, "legend": null},
         "stroke": {"field": "type", "type": "nominal", "scale": {"domain": ["Canyon","Slope"], "range": ["#33a6ee","#006400"]}, "legend": null},
         "fill": {"field": "type", "type": "nominal", "scale": {"domain": ["Canyon","Slope"], "range": ["transparent","#006400"]}, "legend": null},
         "size": {"condition": {"test": "datum.type === 'Slope'", "value": 16}, "value": 52}
        }},
       {"data": {"name": "G_line"}, "mark": {"type": "line", "color": "#000", "strokeWidth": 0.8, "clip": true},
        "encoding": {
         "x": {"field": "x", "type": "quantitative", "axis": {"orient": "top", "title": "G", "titleX": -20, "titleY": -4, "titleAlign": "left", "titleBaseline": "alphabetic", "titleFontSize": 18, "titleFontWeight": "bold", "labels": false, "ticks": false, "domain": false}},
         "y": {"field": "y", "type": "quantitative", "axis": {"orient": "right", "title": "R\u00b2 = 0.18", "titleAngle": 0, "titleX": -310, "titleY": 18, "titleAlign": "left", "titleBaseline": "alphabetic", "titleFontSize": 13, "labels": false, "ticks": false, "domain": false}}
        }}
      ]
     },
     {
      "width": 319, "height": 191,
      "resolve": {"axis": {"x": "independent", "y": "independent"}},
      "layer": [
       {"data": {"name": "H"}, "mark": {"type": "point"},
        "encoding": {
         "x": {"field": "x", "type": "quantitative", "scale": {"domain": [1.6, 3.036], "nice": false, "zero": false}, "axis": {"values": [2,2.5,3], "format": ".1f", "title": "Kurtosis", "labelFontSize": 8.5, "titlePadding": 9}},
         "y": {"field": "y", "type": "quantitative", "scale": {"domain": [110, 1616], "nice": false, "zero": false}, "axis": {"values": [500,1000,1500], "format": "d", "title": null, "labelFontSize": 8.5}},
         "shape": {"field": "type", "type": "nominal", "scale": {"domain": ["Canyon","Slope"], "range": ["triangle-down","circle"]}, "legend": null},
         "stroke": {"field": "type", "type": "nominal", "scale": {"domain": ["Canyon","Slope"], "range": ["#33a6ee","#006400"]}, "legend": null},
         "fill": {"field": "type", "type": "nominal", "scale": {"domain": ["Canyon","Slope"], "range": ["transparent","#006400"]}, "legend": null},
         "size": {"condition": {"test": "datum.type === 'Slope'", "value": 16}, "value": 52}
        }},
       {"data": {"name": "H_line"}, "mark": {"type": "line", "color": "#000", "strokeWidth": 0.8, "clip": true},
        "encoding": {
         "x": {"field": "x", "type": "quantitative", "axis": {"orient": "top", "title": "H", "titleX": -21, "titleY": -4, "titleAlign": "left", "titleBaseline": "alphabetic", "titleFontSize": 18, "titleFontWeight": "bold", "labels": false, "ticks": false, "domain": false}},
         "y": {"field": "y", "type": "quantitative", "axis": {"orient": "right", "title": "R\u00b2 = 0.14", "titleAngle": 0, "titleX": -310, "titleY": 17, "titleAlign": "left", "titleBaseline": "alphabetic", "titleFontSize": 13, "labels": false, "ticks": false, "domain": false}}
        }}
      ]
     }
    ]
   }
  ]
 }
]
}
